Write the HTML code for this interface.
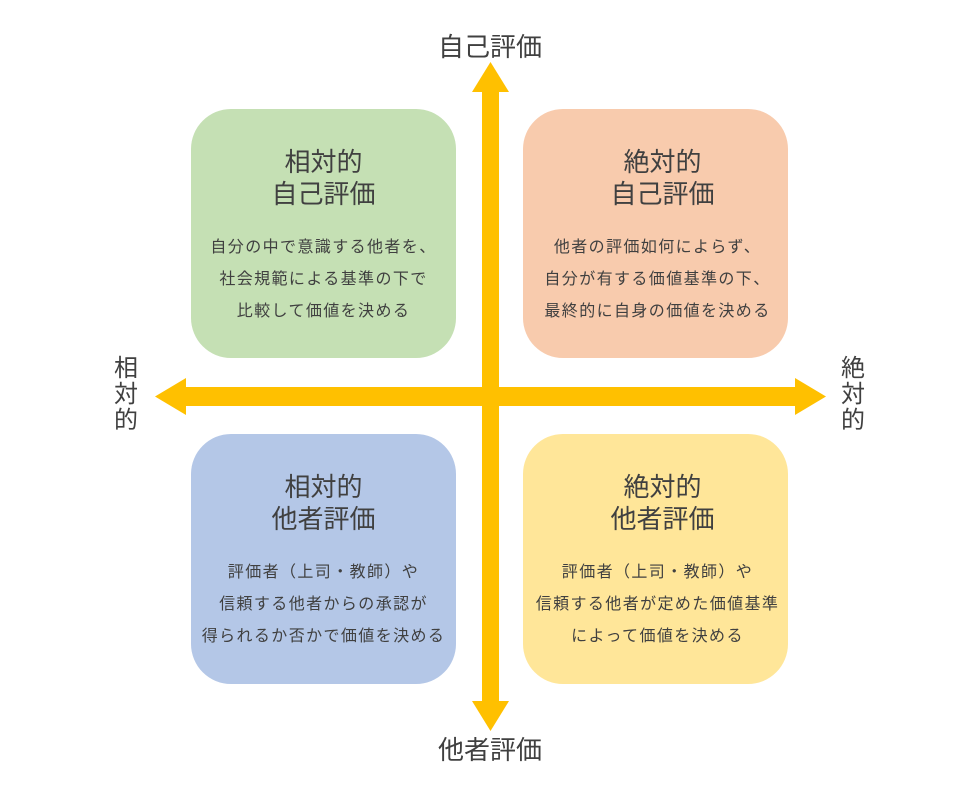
<!DOCTYPE html>
<html><head><meta charset="utf-8"><style>
body{margin:0;width:980px;height:805px;background:#fff;position:relative;overflow:hidden;font-family:"Liberation Sans","Noto Sans CJK JP",sans-serif;color:#404040}
.b{position:absolute;width:265px;height:249px;border-radius:40px;text-align:center}
.t{font-size:26px;line-height:32px;margin-top:37px}
.r .t{padding-left:14px}
.d{font-size:16px;line-height:32px;margin-top:22px;letter-spacing:1.4px;white-space:nowrap}
.r .d{padding-left:4px}
.l{position:absolute;font-size:24px;line-height:26px;width:30px;text-align:center}
.h{position:absolute;font-size:26px;line-height:30px}
</style></head><body>
<div class="b" style="left:191px;top:109px;background:#c5e0b4"><div class="t">相対的<br>自己評価</div><div class="d">自分の中で意識する他者を、<br>社会規範による基準の下で<br>比較して価値を決める</div></div>
<div class="b r" style="left:523px;top:109px;background:#f8cbad"><div class="t">絶対的<br>自己評価</div><div class="d">他者の評価如何によらず、<br>自分が有する価値基準の下、<br>最終的に自身の価値を決める</div></div>
<div class="b" style="left:191px;top:434px;width:265px;height:250px;background:#b4c7e7"><div class="t">相対的<br>他者評価</div><div class="d">評価者（上司・教師）や<br>信頼する他者からの承認が<br>得られるか否かで価値を決める</div></div>
<div class="b r" style="left:523px;top:434px;height:250px;background:#ffe699"><div class="t">絶対的<br>他者評価</div><div class="d">評価者（上司・教師）や<br>信頼する他者が定めた価値基準<br>によって価値を決める</div></div>
<svg style="position:absolute;left:0;top:0" width="980" height="805">
<g fill="#ffc000">
<rect x="482" y="90" width="17" height="612"/>
<polygon points="490.5,62 472,92 509,92"/>
<polygon points="490.5,731 472,701 509,701"/>
<rect x="184" y="387" width="614" height="19"/>
<polygon points="155,396.5 186,378 186,415"/>
<polygon points="826,396.5 795,378 795,415"/>
</g></svg>
<div class="h" style="left:438px;top:32px">自己評価</div>
<div class="h" style="left:438px;top:735px">他者評価</div>
<div class="l" style="left:111px;top:356px">相<br>対<br>的</div>
<div class="l" style="left:838px;top:356px">絶<br>対<br>的</div>
</body></html>
